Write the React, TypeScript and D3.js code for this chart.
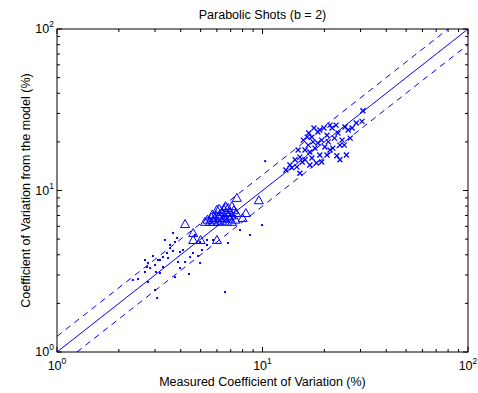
import React from "react";
import * as d3 from "d3";

const W = 478;
const H = 393;

const title = "Parabolic Shots (b = 2)";
const xLabel = "Measured Coefficient of Variation (%)";
const yLabel = "Coefficient of Variation from the model (%)";
const decades = [1, 10, 100];
const decadeExp = ["0", "1", "2"];
const bandFactor = 1.25;

// small dots: [measured, model]
const dots: [number, number][] = [
  [3.67, 5.46], [3.75, 4.8], [3.55, 4.4], [3.67, 4.22], [3.97, 4.16], [4.1, 4.28],
  [3.43, 4.1], [3.28, 3.87], [3.17, 3.71], [2.93, 3.93], [2.77, 3.56], [2.74, 3.36],
  [2.84, 3.31], [3.0, 3.46], [2.68, 3.13], [3.03, 3.13], [3.17, 3.08], [2.48, 2.83],
  [3.28, 3.36], [4.39, 3.04], [3.75, 2.91], [3.97, 3.31], [4.97, 4.8], [5.08, 4.28],
  [4.59, 4.1], [4.44, 3.87], [3.84, 5.08], [2.77, 2.71], [3.0, 2.42], [3.07, 2.16],
  [4.86, 3.93], [4.97, 3.56], [5.37, 4.94], [6.57, 2.35], [9.95, 6.11], [10.3, 15.2],
  [5.74, 4.94], [5.37, 4.6], [2.34, 2.79], [3.55, 4.6], [3.1, 3.71], [4.2, 3.61],
  [6.79, 4.73], [7.77, 5.69], [8.69, 5.3], [4.69, 5.3], [3.35, 4.94], [2.68, 3.71],
  [3.47, 3.82], [3.88, 3.61],
];

// triangles: [measured, model]
const triangles: [number, number][] = [
  [4.2, 6.2], [4.6, 5.45], [4.6, 4.94], [5.0, 4.94], [6.0, 4.94], [8.3, 7.25],
  [8.0, 6.75], [7.5, 9.0], [9.6, 8.7], [7.1, 6.4], [5.4, 6.6], [5.55, 6.4],
  [5.75, 6.6], [5.87, 6.75], [6.1, 6.9], [6.2, 7.1], [6.35, 7.35], [6.5, 7.6],
  [6.7, 7.25], [6.8, 6.9], [6.95, 7.35], [7.1, 7.0], [7.25, 7.55], [7.45, 7.25],
  [5.8, 6.4], [6.1, 6.4], [6.35, 6.5], [6.7, 6.4], [5.7, 7.1], [6.0, 7.6],
  [6.2, 6.75], [6.5, 6.7], [6.8, 7.8], [7.1, 8.0], [6.95, 6.7], [6.6, 8.0],
  [6.15, 7.7], [5.65, 6.8], [7.4, 6.6], [5.25, 6.4],
];

// crosses: [measured, model]
const crosses: [number, number][] = [
  [30.8, 31.2], [30.5, 26.8], [25.2, 24.7], [26.7, 21.1], [23.8, 19.1], [23.0, 16.4],
  [26.1, 23.7], [19.0, 23.7], [17.4, 21.4], [16.5, 21.4], [23.3, 22.7], [21.3, 17.8],
  [14.7, 14.0], [13.9, 13.8], [15.2, 12.8], [16.1, 17.8], [16.7, 19.1], [17.0, 17.3],
  [17.4, 15.9], [18.0, 18.3], [18.6, 19.7], [19.0, 16.6], [19.4, 20.5], [20.1, 18.6],
  [20.6, 22.0], [20.9, 20.0], [21.8, 24.4], [22.4, 21.1], [22.8, 25.4], [21.3, 25.4],
  [19.9, 24.4], [18.6, 23.0], [17.6, 20.0], [16.1, 15.5], [15.6, 15.0], [17.0, 14.4],
  [18.3, 14.8], [15.2, 16.1], [14.4, 15.5], [13.6, 14.4], [13.0, 13.4], [24.4, 20.5],
  [25.0, 19.1], [27.3, 24.4], [28.6, 26.2], [25.6, 16.6], [23.8, 15.5], [20.6, 16.6],
  [19.4, 15.0], [17.8, 24.4], [16.8, 22.7], [22.0, 18.3], [15.8, 20.5], [14.9, 17.8],
];

const BLUE = "#0000ff";
const FONT = "'Liberation Sans', Arial, Helvetica, sans-serif";
const FS = 12.5;

export default function App() {
  const left = 57, right = 468, top = 29, bottom = 352;
  const x = d3.scaleLog().domain([1, 100]).range([left, right]);
  const y = d3.scaleLog().domain([1, 100]).range([bottom, top]);

  const minorVals: number[] = [];
  [1, 10].forEach((d) => {
    for (let k = 2; k <= 9; k++) minorVals.push(d * k);
  });

  const line = d3
    .line<[number, number]>()
    .x((d) => x(d[0]))
    .y((d) => y(d[1]));

  const diag: [number, number][] = [[1, 1], [100, 100]];
  const upper: [number, number][] = [[1, bandFactor], [100 / bandFactor, 100]];
  const lower: [number, number][] = [[bandFactor, 1], [100, 100 / bandFactor]];

  const majorLen = 5;
  const minorLen = 3;

  return (
    <svg width={W} height={H} style={{ position: "absolute", left: 0, top: 0, background: "#fff" }}>
      <defs>
        <clipPath id="plotclip">
          <rect x={left} y={top} width={right - left} height={bottom - top} />
        </clipPath>
      </defs>
      <rect x={0} y={0} width={W} height={H} fill="#fff" />

      {/* reference lines */}
      <g clipPath="url(#plotclip)" fill="none" stroke={BLUE} strokeWidth={1}>
        <path d={line(diag) || ""} />
        <path d={line(upper) || ""} strokeDasharray="6,5" />
        <path d={line(lower) || ""} strokeDasharray="6,5" />
      </g>

      {/* dots */}
      <g fill={BLUE}>
        {dots.map((d, i) => (
          <rect key={i} x={x(d[0]) - 1} y={y(d[1]) - 1} width={2} height={2} />
        ))}
      </g>

      {/* triangles */}
      <g fill="none" stroke={BLUE} strokeWidth={1}>
        {triangles.map((d, i) => {
          const cx = x(d[0]);
          const cy = y(d[1]);
          return (
            <path
              key={i}
              d={`M${cx},${cy - 4.5}L${cx + 4.5},${cy + 3.5}L${cx - 4.5},${cy + 3.5}Z`}
            />
          );
        })}
      </g>

      {/* crosses */}
      <g stroke={BLUE} strokeWidth={1.3}>
        {crosses.map((d, i) => {
          const cx = x(d[0]);
          const cy = y(d[1]);
          const s = 2.5;
          return (
            <path
              key={i}
              d={`M${cx - s},${cy - s}L${cx + s},${cy + s}M${cx - s},${cy + s}L${cx + s},${cy - s}`}
            />
          );
        })}
      </g>

      {/* frame */}
      <rect x={left} y={top} width={right - left} height={bottom - top} fill="none" stroke="#000" strokeWidth={1} />

      {/* ticks */}
      <g stroke="#000" strokeWidth={1}>
        {decades.map((v, i) => (
          <g key={"mx" + i}>
            <line x1={x(v)} x2={x(v)} y1={bottom} y2={bottom - majorLen} />
            <line x1={x(v)} x2={x(v)} y1={top} y2={top + majorLen} />
            <line y1={y(v)} y2={y(v)} x1={left} x2={left + majorLen} />
            <line y1={y(v)} y2={y(v)} x1={right} x2={right - majorLen} />
          </g>
        ))}
        {minorVals.map((v, i) => (
          <g key={"mn" + i}>
            <line x1={x(v)} x2={x(v)} y1={bottom} y2={bottom - minorLen} />
            <line x1={x(v)} x2={x(v)} y1={top} y2={top + minorLen} />
            <line y1={y(v)} y2={y(v)} x1={left} x2={left + minorLen} />
            <line y1={y(v)} y2={y(v)} x1={right} x2={right - minorLen} />
          </g>
        ))}
      </g>

      {/* tick labels */}
      <g fontFamily={FONT} fill="#000">
        {decades.map((v, i) => (
          <text key={"xl" + i} x={x(v)} y={370} fontSize={FS} textAnchor="middle">
            10<tspan fontSize={8.5} dy={-6}>{decadeExp[i]}</tspan>
          </text>
        ))}
        {decades.map((v, i) => (
          <text key={"yl" + i} x={54} y={y(v) + 4} fontSize={FS} textAnchor="end">
            10<tspan fontSize={8.5} dy={-6}>{decadeExp[i]}</tspan>
          </text>
        ))}
      </g>

      {/* titles */}
      <text x={(left + right) / 2} y={19} fontFamily={FONT} fontSize={FS} textAnchor="middle" fill="#000">
        {title}
      </text>
      <text x={(left + right) / 2} y={386} fontFamily={FONT} fontSize={FS} textAnchor="middle" fill="#000">
        {xLabel}
      </text>
      <text
        transform={`translate(30,${(top + bottom) / 2}) rotate(-90)`}
        fontFamily={FONT}
        fontSize={FS}
        textAnchor="middle"
        fill="#000"
      >
        {yLabel}
      </text>
    </svg>
  );
}
